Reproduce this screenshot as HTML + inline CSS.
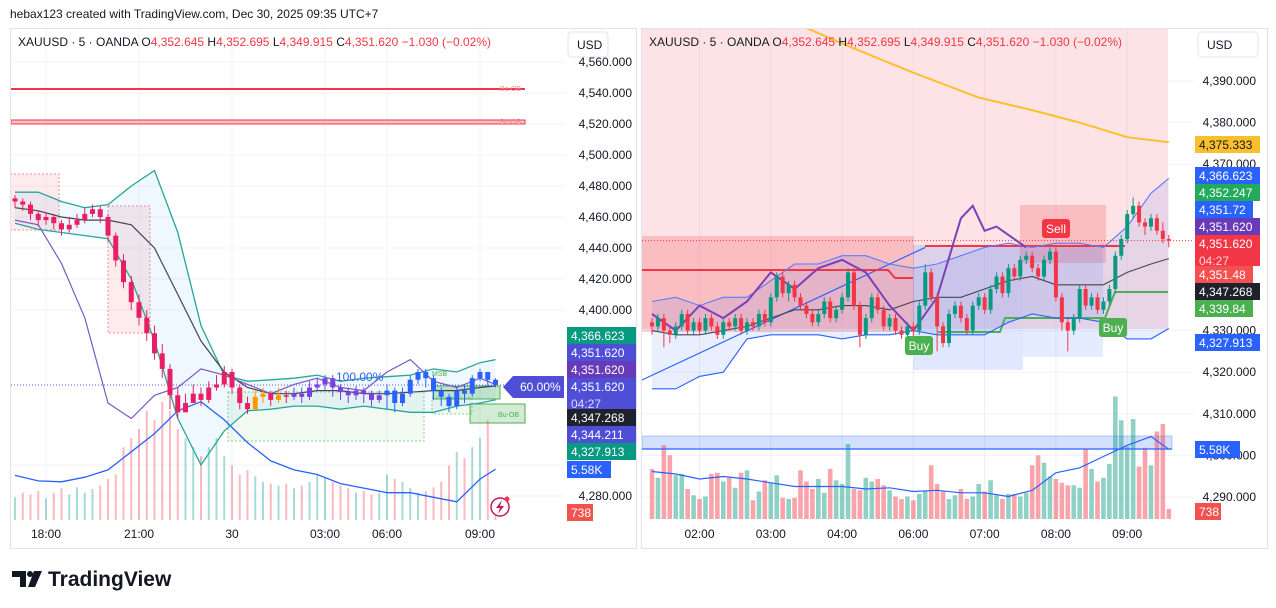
<!DOCTYPE html>
<html><head><meta charset="utf-8"><style>
html,body{margin:0;padding:0;background:#fff;}
svg{display:block;font-family:"Liberation Sans",sans-serif;}
</style></head><body>
<svg id="root" width="1276" height="608" viewBox="0 0 1276 608" xmlns="http://www.w3.org/2000/svg">
<defs>
<clipPath id="clipL"><rect x="11" y="29" width="554" height="491"/></clipPath>
<clipPath id="clipR"><rect x="642" y="29" width="552" height="491"/></clipPath>
</defs>
<text x="10" y="18" font-size="12" fill="#131722">hebax123 created with TradingView.com, Dec 30, 2025 09:35 UTC+7</text>
<rect x="10.5" y="28.5" width="626" height="520" fill="#fff" stroke="#e0e3eb"/>
<rect x="641.5" y="28.5" width="626" height="520" fill="#fff" stroke="#e0e3eb"/>
<g id="L"></g>
<g id="R"></g>
<g>
<path d="M12 571 H26 V587 H20 V577 H12 Z" fill="#131722"/>
<circle cx="30" cy="574" r="3" fill="#131722"/>
<path d="M34 571 H42 L35 587 H28 Z" fill="#131722"/>
<text x="48" y="586" font-size="21" font-weight="bold" fill="#131722">TradingView</text>
</g>
</svg>
<script>
var NS='http://www.w3.org/2000/svg';
// ---------- LEFT CHART DATA (15-min bars) ----------
var lClose=[4470,4468,4462,4458,4460,4456,4452,4455,4458,4462,4465,4460,4448,4432,4418,4405,4395,4385,4372,4362,4345,4334,4340,4346,4342,4350,4352,4360,4350,4340,4336,4344,4346,4342,4345,4344,4346,4344,4350,4352,4356,4350,4347,4345,4348,4346,4342,4345,4348,4340,4346,4355,4360,4356,4348,4344,4338,4348,4346,4356,4360,4355,4351.62];
var lHigh=[4474,4472,4470,4464,4463,4462,4458,4460,4462,4466,4468,4467,4462,4450,4436,4422,4410,4400,4390,4378,4365,4350,4346,4352,4350,4354,4358,4364,4362,4352,4344,4348,4350,4348,4350,4348,4350,4350,4354,4356,4358,4358,4352,4350,4351,4350,4348,4348,4352,4350,4350,4358,4362,4362,4358,4350,4346,4350,4352,4358,4362,4360,4356];
var lLow=[4466,4464,4458,4454,4455,4452,4448,4450,4453,4456,4460,4456,4444,4428,4414,4400,4390,4380,4368,4356,4336,4330,4334,4340,4338,4340,4348,4350,4346,4336,4333,4336,4340,4338,4340,4340,4342,4340,4342,4348,4348,4344,4342,4340,4342,4340,4338,4340,4336,4334,4338,4344,4352,4350,4342,4338,4334,4336,4340,4344,4354,4350,4350];
var lVol=[2.5,3,2.8,3.2,2.4,3,3.5,2.8,3.6,3,3.4,3.8,4.5,5,8,9,10,12,11,13,12,10,9,8,7,8,9,7,6,5,5.5,4.8,4.2,4,3.8,4,3.5,3.8,4.2,5,4.6,4.2,3.8,3.5,3,3.2,2.8,3,5,4.5,4.2,3.5,3,3.2,3.6,4.2,6,7.5,6.8,8,9,11,1.5];
var lOvIdx=[0,3,6,9,12,15,18,21,24,27,30,33,36,39,42,45,48,51,54,57,60,62];
var lBBUpper=[4476,4476,4470,4466,4468,4480,4490,4450,4390,4358,4354,4355,4356,4358,4354,4356,4357,4358,4362,4360,4366,4368];
var lBBLower=[4456,4452,4450,4448,4446,4420,4380,4330,4300,4322,4335,4336,4338,4338,4336,4338,4336,4334,4334,4338,4340,4342];
var lMA=[4466,4464,4460,4458,4458,4455,4440,4410,4380,4360,4350,4346,4346,4348,4348,4346,4346,4347,4348,4348,4350,4351];
var lPurple=[4458,4455,4430,4395,4340,4330,4345,4350,4362,4358,4352,4346,4352,4356,4350,4348,4360,4368,4354,4350,4356,4352];
var lVolMA=[4.9,4.3,4.2,4.7,5.5,7.5,9.5,12,13,11,8.5,6.5,5.5,5,4,3.5,3,3,2.5,2,4.5,5.58];
var lTicks=[4560,4540,4520,4500,4480,4460,4440,4420,4400,4300,4280];
var lTimeLabels=['18:00','21:00','30','03:00','06:00','09:00'];
var lTimeIdx=[4,16,28,40,48,60];
// ---------- RIGHT CHART DATA (5-min bars) ----------
var rClose=[4331,4333,4330,4329,4331,4334,4330,4332,4330,4333,4331,4329,4332,4331,4333,4330,4332,4331,4334,4332,4338,4343,4339,4341,4338,4336,4334,4332,4334,4337,4333,4335,4338,4344,4336,4329,4333,4338,4335,4331,4333,4330,4329,4331,4330,4336,4344,4338,4331,4327,4334,4336,4333,4330,4336,4338,4335,4340,4343,4339,4345,4343,4347,4348,4345,4343,4347,4349,4338,4332,4330,4333,4340,4336,4338,4335,4337,4340,4348,4352,4358,4360,4356,4355,4357,4354,4352,4351.62];
var rHigh=[4333,4334,4334,4331,4332,4335,4335,4333,4333,4334,4334,4332,4333,4333,4334,4334,4333,4333,4335,4335,4339,4344,4344,4342,4342,4339,4337,4335,4335,4338,4338,4336,4339,4345,4345,4337,4334,4339,4339,4336,4334,4334,4331,4332,4332,4337,4346,4345,4339,4332,4335,4337,4337,4334,4337,4339,4339,4341,4344,4344,4346,4346,4348,4349,4349,4346,4348,4350,4350,4339,4333,4334,4341,4341,4339,4339,4338,4341,4349,4353,4359,4362,4361,4357,4358,4358,4356,4353];
var rLow=[4329,4330,4326,4327,4328,4330,4329,4329,4329,4329,4330,4328,4328,4330,4330,4329,4329,4330,4330,4331,4331,4337,4338,4337,4337,4335,4333,4331,4331,4333,4332,4332,4334,4337,4335,4326,4328,4332,4334,4330,4330,4329,4328,4328,4326,4329,4335,4337,4325,4326,4326,4333,4332,4329,4329,4335,4334,4334,4339,4338,4338,4342,4342,4346,4344,4342,4342,4346,4337,4330,4325,4329,4332,4335,4335,4334,4334,4336,4339,4347,4351,4357,4355,4353,4354,4353,4351,4350];
var rVol=[4.0,3.3,5.9,5.1,3.5,3.6,2.4,1.9,1.6,1.8,3.6,3.7,3.0,3.3,2.5,3.7,3.9,1.5,2.2,3.1,2.9,3.5,1.7,1.6,1.7,3.9,3.0,2.4,3.2,2.1,4.0,3.1,2.8,6.0,2.4,2.3,3.3,3.0,3.2,2.7,2.3,1.8,1.6,1.8,1.5,2.0,2.2,4.3,2.8,2.2,1.6,1.9,2.4,1.6,1.8,2.8,2.2,3.1,1.9,1.6,2.0,2.0,1.8,2.1,4.3,5.1,4.5,3.4,3.2,2.9,2.7,2.7,2.5,5.6,4.0,3.0,3.3,4.4,9.8,7.9,5.8,8.0,4.2,5.7,4.3,7.0,7.6,0.8];
var rOvIdx=[0,4,8,12,16,20,24,28,32,36,40,44,48,52,56,60,64,68,72,76,80,84,87];
var rBBUpper=[4337,4338,4336,4338,4338,4342,4346,4346,4348,4348,4346,4345,4346,4348,4350,4351,4350,4351,4351,4350,4355,4363,4366.6];
var rBBLower=[4316,4316,4319,4320,4328,4329,4329,4329,4328,4329,4329,4330,4329,4329,4329,4332,4334,4333,4333,4332,4328,4328,4330.5];
var rMA=[4330,4329,4329,4330,4331,4333,4335,4335,4336,4336,4335,4337,4338,4338,4340,4342,4343,4341,4341,4341,4344,4346,4347.3];
var rVolMA=[3.8,3.6,3.2,3.4,3.2,2.9,2.6,2.6,2.6,2.4,2.5,2.2,2.3,2.1,2.1,1.8,2.3,3.7,4.1,5.0,5.9,6.6,5.58];
var rPurpleIdx=[0,4,8,12,16,20,24,28,32,36,40,44,48,52,54,56,58,60,63];
var rPurple=[4334,4330,4336,4333,4337,4344,4340,4345,4347,4344,4336,4330,4338,4357,4360,4354,4355,4353,4350];
var rOrangeIdx=[24,32,44,55,64,72,80,87];
var rOrange=[4404,4399,4392,4386,4383,4380,4376.5,4375.3];
var rTicks=[4390,4380,4370,4330,4320,4310,4300,4290];
var rTimeLabels=['02:00','03:00','04:00','06:00','07:00','08:00','09:00'];
var rTimeIdx=[8,20,32,44,56,68,80];

// ---------- SCALES ----------
function xL(i){return 15+i*7.75;}
function yL(p){return 93+(4540-p)*1.55;}
function yLV(v){return 520-v*9.1;}
function xR(i){return 652+i*5.94;}
function yR(p){return 81+(4390-p)*4.16;}
function yRV(v){return 519-v*12.5;}

function mk(tag,attrs,parent){var e=document.createElementNS(NS,tag);for(var k in attrs)e.setAttribute(k,attrs[k]);parent.appendChild(e);return e;}
function fmt(p){var s=p.toFixed(3).split('.');return s[0].replace(/\B(?=(\d{3})+(?!\d))/g,',')+'.'+s[1];}
function pts(idx,vals,sx,sy){return idx.map(function(ix,k){return sx(ix).toFixed(1)+','+sy(vals[k]).toFixed(1);}).join(' ');}

var L=document.getElementById('L'), R=document.getElementById('R');

// ===== LEFT =====
var gl=mk('g',{},L);


lTicks.forEach(function(t){
  var ln=mk('line',{x1:11,x2:565,y1:yL(t),y2:yL(t),stroke:'#f0f3fa'},gl);
  
  
});
lTimeIdx.forEach(function(ix){
  var ln=mk('line',{x1:xL(ix),x2:xL(ix),y1:29,y2:520,stroke:'#f0f3fa'},gl);
  
  
});
var lp=mk('g',{'clip-path':'url(#clipL)'},L);


var ob1=mk('line',{x1:11,x2:525,y1:89,y2:89,stroke:'#f23645','stroke-width':2},lp);


var ob2=mk('rect',{x:11,y:120,width:514,height:4,fill:'rgba(242,54,69,0.3)',stroke:'#f23645'},lp);


[[10,174,49,56],[108,206,42,127]].forEach(function(b){
  var r=mk('rect',{x:b[0],y:b[1],width:b[2],height:b[3],fill:'rgba(242,54,69,0.1)',stroke:'#f58c95','stroke-dasharray':'2,2'},lp);
  
  
});
[[228,392,196,49],[432,398,40,16]].forEach(function(b){
  var r=mk('rect',{x:b[0],y:b[1],width:b[2],height:b[3],fill:'rgba(76,175,80,0.08)',stroke:'#8fcf8f','stroke-dasharray':'2,2'},lp);
  
  
});
var bu=mk('rect',{x:470,y:404,width:55,height:19,fill:'rgba(76,175,80,0.25)',stroke:'#4caf50'},lp);


var bu2=mk('rect',{x:433,y:386,width:67,height:13,fill:'rgba(76,175,80,0.3)',stroke:'#4caf50'},lp);


var fillPts=pts(lOvIdx,lBBUpper,xL,yL)+' '+pts(lOvIdx.slice().reverse(),lBBLower.slice().reverse(),xL,yL);
var bf=mk('polygon',{points:fillPts,fill:'rgba(33,150,243,0.07)'},lp);


lVol.forEach(function(v,i){
  var up=i===0?true:lClose[i]>=lClose[i-1];
  var b=mk('rect',{x:xL(i)-1,y:yLV(v),width:2,height:520-yLV(v),fill:up?'rgba(8,153,129,0.35)':'rgba(242,54,69,0.35)'},lp);
  
  
});
var vm=mk('polyline',{points:pts(lOvIdx,lVolMA,xL,yLV),fill:'none',stroke:'#2962ff','stroke-width':1.3},lp);


var series=[[lBBUpper,'#26a69a',1.3,'left-bb-upper'],[lBBLower,'#26a69a',1.3,'left-bb-lower'],[lMA,'#434651',1.2,'left-ma'],[lPurple,'#7e57c2',1.2,'left-purple-line']];
series.forEach(function(s){
  var pl=mk('polyline',{points:pts(lOvIdx,s[0],xL,yL),fill:'none',stroke:s[1],'stroke-width':s[2]},lp);
  
  
});
var pr=mk('line',{x1:11,x2:565,y1:yL(4351.62),y2:yL(4351.62),stroke:'#5b5bd6','stroke-dasharray':'1,2'},lp);


lClose.forEach(function(c,i){
  var o=i===0?4472:lClose[i-1];
  var col=i<28?'#e91e63':(i<36?(c>=o?'#ff9800':'#e91e63'):(i<48?'#7b3fe4':'#2962ff'));
  var w=mk('line',{x1:xL(i),x2:xL(i),y1:yL(lHigh[i]),y2:yL(lLow[i]),stroke:col},lp);
  
  
  var b=mk('rect',{x:xL(i)-2.5,y:yL(Math.max(o,c)),width:5,height:Math.max(1,Math.abs(yL(o)-yL(c))),fill:col},lp);
  
  
});
[['Be-OB',500,91,'#f5868f'],['Be-OB',500,124,'#f5868f'],['MSB',432,376,'#4caf50'],['Bu-OB',498,417,'#4caf50']].forEach(function(a){
  var t=mk('text',{x:a[1],y:a[2],'font-size':7,fill:a[3]},lp);
  t.textContent=a[0];
  
  
});
var pct=mk('text',{x:336,y:381,'font-size':12,fill:'#2962ff'},lp);
pct.textContent='100.00%';


var lg=mk('g',{},L);


mk('circle',{cx:500,cy:507,r:9,fill:'#fff',stroke:'#c2185b','stroke-width':1.5},lg);
mk('path',{d:'M502 500 L496 508 L500 508 L498 514 L504 506 L500 506 Z',fill:'#c2185b'},lg);
mk('circle',{cx:507,cy:499,r:2.5,fill:'#f23645'},lg);
lTicks.forEach(function(t){
  if(t===4300)return;
  var tx=mk('text',{x:632,y:yL(t)+4,'font-size':12,fill:'#131722','text-anchor':'end'},L);
  tx.textContent=fmt(t);
  
  
});
lTimeIdx.forEach(function(ix,k){
  var tx=mk('text',{x:xL(ix),y:538,'font-size':12,fill:'#131722','text-anchor':'middle'},L);
  tx.textContent=lTimeLabels[k];
  
  
});
// ===== RIGHT =====
var gr=mk('g',{},R);


rTicks.forEach(function(t){
  var ln=mk('line',{x1:642,x2:1194,y1:yR(t),y2:yR(t),stroke:'#f0f3fa'},gr);
  
  
});
var rp=mk('g',{'clip-path':'url(#clipR)'},R);


var bg=mk('rect',{x:642,y:29,width:526,height:300,fill:'#fde3e5'},rp);


rTimeIdx.forEach(function(ix){
  var ln=mk('line',{x1:xR(ix),x2:xR(ix),y1:29,y2:520,stroke:'rgba(200,200,210,0.3)'},rp);
  
  
});
[[642,236,272,96,'rgba(242,54,69,0.22)'],[1020,205,86,58,'rgba(242,54,69,0.22)'],[913,245,110,125,'rgba(41,98,255,0.15)'],[1023,245,80,112,'rgba(41,98,255,0.12)']].forEach(function(b){
  var r=mk('rect',{x:b[0],y:b[1],width:b[2],height:b[3],fill:b[4]},rp);
  
  
});
var rf=pts(rOvIdx,rBBUpper,xR,yR)+' '+pts(rOvIdx.slice().reverse(),rBBLower.slice().reverse(),xR,yR);
var rbf=mk('polygon',{points:rf,fill:'rgba(41,98,255,0.1)'},rp);


var vz=mk('rect',{x:642,y:436,width:530,height:13,fill:'rgba(41,98,255,0.2)',stroke:'rgba(41,98,255,0.3)'},rp);


rVol.forEach(function(v,i){
  var o=i===0?4332:rClose[i-1];
  var b=mk('rect',{x:xR(i)-2.3,y:yRV(v),width:4.6,height:519-yRV(v),fill:rClose[i]>=o?'rgba(8,153,129,0.45)':'rgba(242,54,69,0.45)'},rp);
  
  
});
var vline=mk('line',{x1:642,x2:1172,y1:449,y2:449,stroke:'#2962ff','stroke-width':1.3},rp);


var rvm=mk('polyline',{points:pts(rOvIdx,rVolMA,xR,yRV),fill:'none',stroke:'#2962ff','stroke-width':1.2},rp);


var tl=mk('line',{x1:642,y1:380,x2:xR(46),y2:yR(4350),stroke:'#2962ff','stroke-width':1.2},rp);


var redStep=mk('polyline',{points:'642,270 888,270 895,278 913,278',fill:'none',stroke:'#f23645','stroke-width':2},rp);


var redSell=mk('line',{x1:925,x2:1125,y1:246,y2:246,stroke:'#f23645','stroke-width':2},rp);


var gStep=mk('polyline',{points:'938,332 1000,332 1005,318 1105,318 1115,292 1168,292',fill:'none',stroke:'#4caf50','stroke-width':2},rp);


var rs=[[rOvIdx,rBBUpper,'#5c7cfa',1.1,'right-bb-upper'],[rOvIdx,rBBLower,'#2962ff',1.1,'right-bb-lower'],[rOvIdx,rMA,'#434651',1.1,'right-ma'],[rPurpleIdx,rPurple,'#7e3fb8',2,'right-purple-line'],[rOrangeIdx,rOrange,'#fbc02d',2,'right-orange-ma']];
rs.forEach(function(s){
  var pl=mk('polyline',{points:pts(s[0],s[1],xR,yR),fill:'none',stroke:s[2],'stroke-width':s[3]},rp);
  
  
});
var rpl=mk('line',{x1:642,x2:1194,y1:yR(4351.62),y2:yR(4351.62),stroke:'#f23645','stroke-dasharray':'1,2'},rp);


rClose.forEach(function(c,i){
  var o=i===0?4332:rClose[i-1];
  var col=c>=o?'#089981':'#f23645';
  var w=mk('line',{x1:xR(i),x2:xR(i),y1:yR(rHigh[i]),y2:yR(rLow[i]),stroke:col},rp);
  
  
  var b=mk('rect',{x:xR(i)-2,y:yR(Math.max(o,c)),width:4,height:Math.max(1,Math.abs(yR(o)-yR(c))),fill:col},rp);
  
  
});
[['Buy',905,336,'#4caf50'],['Buy',1099,318,'#4caf50'],['Sell',1042,219,'#f23645']].forEach(function(a){
  var g=mk('g',{},rp);
  
  
  mk('rect',{x:a[1],y:a[2],width:28,height:19,rx:3,fill:a[3]},g);
  var t=mk('text',{x:a[1]+14,y:a[2]+14,'font-size':12,fill:'#fff','text-anchor':'middle'},g);
  t.textContent=a[0];
});
rTicks.forEach(function(t){
  var tx=mk('text',{x:1256,y:yR(t)+4,'font-size':12,fill:'#131722','text-anchor':'end'},R);
  tx.textContent=fmt(t);
  
  
});
rTimeIdx.forEach(function(ix,k){
  var tx=mk('text',{x:xR(ix),y:538,'font-size':12,fill:'#131722','text-anchor':'middle'},R);
  tx.textContent=rTimeLabels[k];
  
  
});
function tag(parent,x,y,w,txt,bgc,fg,h,sub){
  var g=mk('g',{},parent);
  
  
  mk('rect',{x:x,y:y,width:w,height:h||17,fill:bgc},g);
  var t=mk('text',{x:x+4,y:y+13,'font-size':12,fill:fg||'#fff'},g);
  t.textContent=txt;
  if(sub){var s=mk('text',{x:x+4,y:y+30,'font-size':12,fill:'rgba(255,255,255,0.8)'},g);s.textContent=sub;}
}
tag(L,567,327,69,'4,366.623','#089981');
tag(L,567,344,69,'4,351.620','#4e4ed6');
tag(L,567,361,69,'4,351.620','#673ab7');
tag(L,567,378,69,'4,351.620','#4e4ed6','#fff',34,'04:27');
tag(L,567,409,69,'4,347.268','#1e222d');
tag(L,567,426,69,'4,344.211','#4e4ed6');
tag(L,567,443,69,'4,327.913','#089981');
tag(L,567,461,44,'5.58K','#2962ff');
tag(L,567,504,26,'738','#f05350');
var pp=mk('g',{},L);


mk('path',{d:'M503 387 L513 376 L564 376 L564 398 L513 398 Z',fill:'#4e4ed6'},pp);
var ppt=mk('text',{x:520,y:391,'font-size':12,fill:'#fff'},pp);
ppt.textContent='60.00%';
tag(R,1195,136,65,'4,375.333','#f9bf2c','#131722');
tag(R,1195,167,65,'4,366.623','#2962ff');
tag(R,1195,184,65,'4,352.247','#22ab5a');
tag(R,1195,201,58,'4,351.72','#2962ff');
tag(R,1195,218,65,'4,351.620','#673ab7');
tag(R,1195,235,65,'4,351.620','#f23645','#fff',31,'04:27');
tag(R,1195,266,58,'4,351.48','#f5504f');
tag(R,1195,283,65,'4,347.268','#1e222d');
tag(R,1195,300,58,'4,339.84','#4caf50');
tag(R,1195,334,65,'4,327.913','#2962ff');
tag(R,1195,441,45,'5.58K','#2962ff');
tag(R,1195,503,26,'738','#f05350');
function legend(parent,x){
  var t=mk('text',{x:x,y:46,'font-size':12,fill:'#131722'},parent);
  
  
  t.innerHTML='XAUUSD · 5 · OANDA  O<tspan fill="#f23645">4,352.645</tspan>  H<tspan fill="#f23645">4,352.695</tspan>  L<tspan fill="#f23645">4,349.915</tspan>  C<tspan fill="#f23645">4,351.620</tspan>  <tspan fill="#f23645">−1.030 (−0.02%)</tspan>';
  t.setAttribute('xml:space','preserve');
}
legend(L,18);legend(R,649);
[[568,L],[1198,R]].forEach(function(u){
  var g=mk('g',{},u[1]);
  
  
  mk('rect',{x:u[0],y:32,width:u[0]===568?40:60,height:25,rx:4,fill:'#fff',stroke:'#e0e3eb'},g);
  var t=mk('text',{x:u[0]+9,y:49,'font-size':12,fill:'#131722'},g);
  t.textContent='USD';
});
</script>
</body></html>
